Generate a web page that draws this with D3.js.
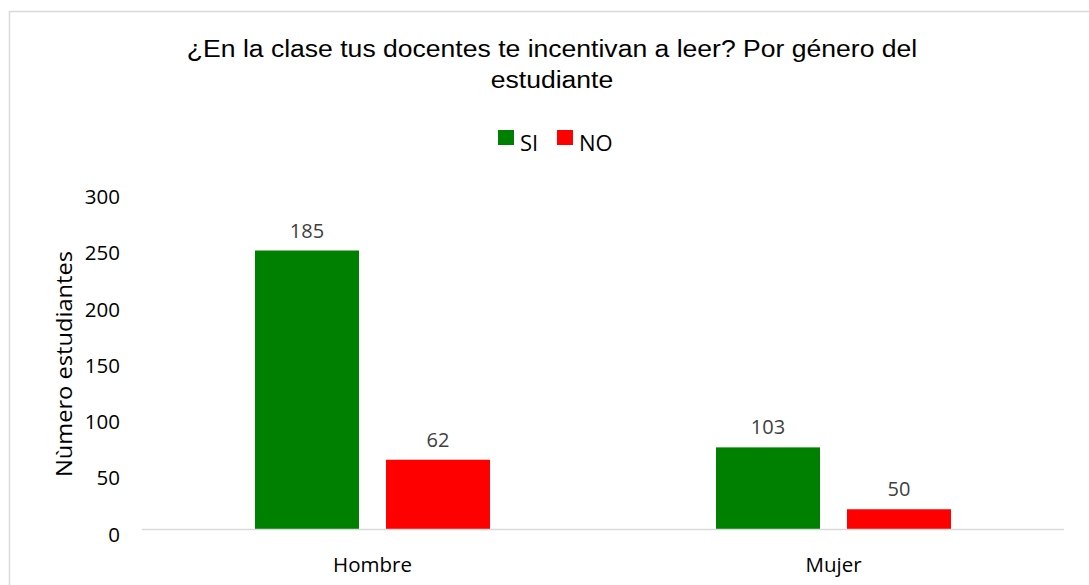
<!DOCTYPE html>
<html>
<head>
<meta charset="utf-8">
<script src="https://cdn.jsdelivr.net/npm/d3@7"></script>
<style>
  body { margin: 0; background: #fff; }
  svg { display: block; }
</style>
</head>
<body>
<svg id="chart"></svg>
<script>
// data
var categories = ["Hombre", "Mujer"],
  seriesNames = ["SI", "NO"],
  seriesColors = ["#008000", "#ff0000"],
  // bar heights as drawn (axis units)
  siValues = [248, 73],
  noValues = [62, 18],
  // numbers printed above the bars
  siLabels = ["185", "103"],
  noLabels = ["62", "50"],
  yTicks = [0, 50, 100, 150, 200, 250, 300];

var width = 1089,
  height = 585,
  margin = {left: 142, right: 25, top: 192, bottom: 55.5},
  tickFont = "'Open Sans', sans-serif";

var svg = d3.select("#chart")
  .attr("width", width)
  .attr("height", height);

// chart frame (only top/left visible)
svg.append("rect")
  .attr("x", 9.5).attr("y", 11.5)
  .attr("width", 1100).attr("height", 600)
  .attr("fill", "none")
  .attr("stroke", "#d9d9d9")
  .attr("stroke-width", 1.5);

// title (a bit stretched sideways like the original)
var title = svg.append("text")
  .attr("transform", "translate(552,0) scale(1.13,1)")
  .attr("text-anchor", "middle")
  .style("font-family", "'Liberation Sans', Arial, sans-serif")
  .style("font-size", "23.5px")
  .style("fill", "#000");
title.append("tspan").attr("x", 0).attr("y", 57.5)
  .text("¿En la clase tus docentes te incentivan a leer? Por género del");
title.append("tspan").attr("x", 0).attr("y", 88)
  .text("estudiante");

// legend
var legend = svg.append("g").attr("transform", "translate(498,130)");
var legendX = [0, 59];
seriesNames.forEach(function(name, i){
  var item = legend.append("g").attr("transform", "translate(" + legendX[i] + ",0)");
  item.append("rect")
    .attr("width", 16).attr("height", 15)
    .attr("fill", seriesColors[i]);
  item.append("text")
    .attr("x", 22).attr("y", 21)
    .style("font-family", tickFont)
    .style("font-size", "22px")
    .style("fill", "#000")
    .text(name);
});

var x0 = d3.scaleBand()
  .domain(categories)
  .range([margin.left, width - margin.right])
  .paddingInner(0)
  .paddingOuter(0);

var x1 = d3.scaleBand()
  .domain(seriesNames)
  .range([0, 235])
  .paddingInner(0.206);

var y = d3.scaleLinear()
  .domain([0, 300])
  .range([height - margin.bottom, margin.top]);

// y tick labels
var yAxis = svg.append("g")
  .attr("transform", "translate(" + margin.left + ",0)")
  .call(d3.axisLeft(y).tickValues(yTicks).tickSize(0).tickPadding(22));
yAxis.select(".domain").remove();
yAxis.selectAll("text")
  .attr("dy", "0.32em")
  .attr("y", 5)
  .style("font-family", tickFont)
  .style("font-size", "20.5px")
  .style("fill", "#000");

// y axis title
svg.append("text")
  .attr("transform", "translate(72," + 364 + ")rotate(-90)")
  .attr("text-anchor", "middle")
  .attr("textLength", 226)
  .attr("lengthAdjust", "spacingAndGlyphs")
  .style("font-family", tickFont)
  .style("font-size", "21px")
  .style("fill", "#000")
  .text("Nùmero estudiantes");

// bars
var rows = categories.map(function(c, i){
  return [
    {cat: c, series: "SI", value: siValues[i], label: siLabels[i], color: seriesColors[0]},
    {cat: c, series: "NO", value: noValues[i], label: noLabels[i], color: seriesColors[1]}
  ];
});

var groups = svg.selectAll(".group")
  .data(rows).enter()
  .append("g")
  .attr("class", "group")
  .attr("transform", function(d){
    return "translate(" + (x0(d[0].cat) + (x0.bandwidth() - 235) / 2) + ",0)";
  });

groups.selectAll("rect")
  .data(function(d){ return d; }).enter()
  .append("rect")
  .attr("x", function(d){ return x1(d.series); })
  .attr("width", x1.bandwidth())
  .attr("y", function(d){ return y(d.value); })
  .attr("height", function(d){ return y(0) - y(d.value); })
  .attr("fill", function(d){ return d.color; });

groups.selectAll(".lbl")
  .data(function(d){ return d; }).enter()
  .append("text")
  .attr("class", "lbl")
  .attr("x", function(d){ return x1(d.series) + x1.bandwidth() / 2; })
  .attr("y", function(d){ return y(d.value) - 13; })
  .attr("text-anchor", "middle")
  .style("font-family", tickFont)
  .style("font-size", "20px")
  .style("fill", "#404040")
  .text(function(d){ return d.label; });

// x axis line + category labels
svg.append("line")
  .attr("x1", margin.left).attr("x2", width - margin.right)
  .attr("y1", y(0)).attr("y2", y(0))
  .attr("stroke", "#d9d9d9")
  .attr("stroke-width", 1.5);

svg.selectAll(".cat")
  .data(categories).enter()
  .append("text")
  .attr("class", "cat")
  .attr("x", function(d){ return x0(d) + x0.bandwidth() / 2; })
  .attr("y", 572)
  .attr("text-anchor", "middle")
  .style("font-family", tickFont)
  .style("font-size", "20.5px")
  .style("fill", "#000")
  .text(function(d){ return d; });
</script>
</body>
</html>
